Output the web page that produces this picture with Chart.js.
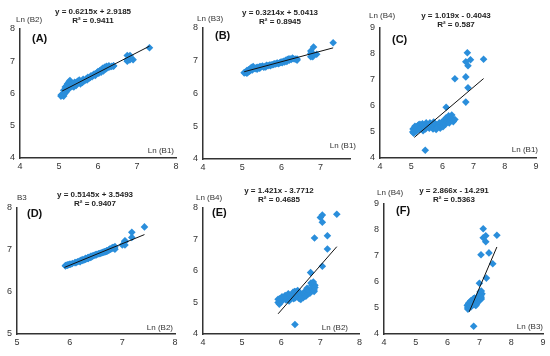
<!DOCTYPE html>
<html>
<head>
<meta charset="utf-8">
<script src="https://cdn.jsdelivr.net/npm/chart.js@4.4.1/dist/chart.umd.min.js"></script>
<style>
  body { margin: 0; background: #fff; }
  #wrap { position: relative; width: 550px; height: 356px; overflow: hidden;
          font-family: "Liberation Sans", Arial, sans-serif; }
  #wrap canvas { position: absolute; }
  .eq { position: absolute; width: 140px; text-align: center; font-weight: bold;
        font-size: 8px; line-height: 9px; color: #222; white-space: nowrap; }
  .ax { position: absolute; font-size: 8px; line-height: 8px; color: #333; white-space: nowrap; }
  .pl { position: absolute; font-weight: bold; font-size: 11px; line-height: 11px; color: #111; }
</style>
</head>
<body>
<div id="wrap"></div>
<script>
// ln values per sample (outliers first, then the main cluster)
const lnB1 = [
  6.80, 6.75, 6.90, 6.82, 7.32, 6.40, 6.75, 6.82, 6.75, 6.12, 5.45,
  5.05, 5.08, 5.10, 5.12, 5.15, 5.18, 5.20, 5.22, 5.25, 5.28,
  5.12, 5.16, 5.20, 5.24, 5.30, 5.33, 5.36, 5.40, 5.44, 5.48,
  5.52, 5.55, 5.58, 5.62, 5.66, 5.70, 5.74, 5.78, 5.82, 5.85,
  5.88, 5.90, 5.93, 5.96, 5.98, 6.00, 6.02, 6.04, 6.06, 6.08,
  6.10, 6.12, 6.14, 6.16, 6.18, 6.20, 6.22, 6.25, 6.28, 6.30,
  6.35, 6.40, 5.06, 5.14, 5.26, 5.38, 5.46, 5.60, 5.72, 5.80
];
const lnB2 = [
  7.05, 7.00, 7.05, 7.05, 7.42, 6.85, 7.18, 7.18, 7.05, 6.75, 6.35,
  5.92, 5.95, 5.98, 5.92, 6.00, 6.05, 6.25, 6.30, 6.35, 6.40,
  6.10, 6.20, 6.12, 6.18, 6.28, 6.22, 6.30, 6.35, 6.25, 6.38,
  6.42, 6.30, 6.36, 6.44, 6.40, 6.46, 6.50, 6.48, 6.55, 6.52,
  6.58, 6.60, 6.56, 6.62, 6.65, 6.68, 6.63, 6.70, 6.72, 6.66,
  6.74, 6.78, 6.70, 6.80, 6.82, 6.76, 6.84, 6.80, 6.86, 6.82,
  6.84, 6.86, 5.96, 6.02, 6.15, 6.20, 6.32, 6.34, 6.42, 6.50
];
const lnB3 = [
  7.12, 7.12, 7.20, 7.20, 7.55, 7.05, 7.30, 7.42, 7.22, 7.00, 6.82,
  6.63, 6.64, 6.65, 6.62, 6.66, 6.68, 6.75, 6.78, 6.80, 6.82,
  6.70, 6.72, 6.70, 6.73, 6.77, 6.76, 6.79, 6.80, 6.77, 6.82,
  6.84, 6.80, 6.82, 6.86, 6.85, 6.87, 6.88, 6.88, 6.91, 6.90,
  6.92, 6.93, 6.91, 6.94, 6.95, 6.96, 6.94, 6.97, 6.98, 6.96,
  7.00, 7.02, 6.98, 7.04, 7.05, 7.02, 7.06, 7.04, 7.08, 7.06,
  7.05, 7.02, 6.64, 6.66, 6.72, 6.74, 6.79, 6.81, 6.85, 6.89
];
const lnB4 = [
  8.05, 7.70, 7.78, 7.55, 7.80, 7.05, 7.12, 6.70, 6.15, 5.95, 4.30,
  5.00, 4.95, 5.05, 5.10, 5.02, 5.15, 5.20, 5.25, 5.18, 5.30,
  5.22, 5.12, 5.08, 5.28, 5.15, 5.22, 5.32, 5.25, 5.18, 5.35,
  5.28, 5.20, 5.15, 5.30, 5.22, 5.12, 5.25, 5.30, 5.18, 5.22,
  5.28, 5.35, 5.15, 5.25, 5.32, 5.40, 5.20, 5.28, 5.35, 5.45,
  5.30, 5.55, 5.38, 5.42, 5.50, 5.62, 5.35, 5.45, 5.55, 5.65,
  5.40, 5.48, 5.12, 5.18, 5.10, 5.05, 5.12, 5.35, 5.38, 5.10
];

// fitted trend lines as printed on each panel
const panelNames = ['(A)', '(B)', '(C)', '(D)', '(E)', '(F)'];
const slopes = [0.6215, 0.3214, 1.019, 0.5145, 1.421, 2.866];
const intercepts = [2.9185, 5.0413, -0.4043, 3.5493, -3.7712, -14.291];
const eqLabels = ['y = 0.6215x + 2.9185', 'y = 0.3214x + 5.0413', 'y = 1.019x - 0.4043',
                  'y = 0.5145x + 3.5493', 'y = 1.421x - 3.7712', 'y = 2.866x - 14.291'];
const r2Labels = ['R\u00b2 = 0.9411', 'R\u00b2 = 0.8945', 'R\u00b2 = 0.587',
                  'R\u00b2 = 0.9407', 'R\u00b2 = 0.4685', 'R\u00b2 = 0.5363'];
const trendStart = [5.08, 5.05, 5.10, 5.90, 5.92, 6.68];
const trendEnd = [7.32, 7.32, 7.32, 7.42, 7.42, 7.55];
const xTitles = ['Ln (B1)', 'Ln (B1)', 'Ln (B1)', 'Ln (B2)', 'Ln (B2)', 'Ln (B3)'];
const yTitles = ['Ln (B2)', 'Ln (B3)', 'Ln (B4)', 'B3', 'Ln (B4)', 'Ln (B4)'];

const xSeries = [lnB1, lnB1, lnB1, lnB2, lnB2, lnB3];
const ySeries = [lnB2, lnB3, lnB4, lnB3, lnB4, lnB4];

// layout: canvas box, plot area (page px), axis ranges, text spots
const panels = [
  { box: [0, 0, 185, 175],     area: [20, 29, 176, 158],  xr: [4, 8],    yr: [4, 8],
    eq: [93, 7],    yt: [16, 16],   xt: [174, 147], pl: [32, 33] },
  { box: [185, 0, 180, 175],   area: [203, 28, 350, 159], xr: [4, 7.75], yr: [4, 8],
    eq: [280, 7.5], yt: [197, 15],  xt: [356, 142], pl: [215, 30] },
  { box: [365, 0, 185, 175],   area: [380, 28, 536, 158], xr: [4, 9],    yr: [4, 9],
    eq: [456, 10.5], yt: [369, 12], xt: [538, 146], pl: [392, 34] },
  { box: [0, 175, 185, 181],   area: [17, 208, 175, 334], xr: [5, 8],    yr: [5, 8],
    eq: [95, 189.5], yt: [17, 194], xt: [173, 324], pl: [27, 208] },
  { box: [185, 175, 180, 181], area: [203, 208, 360, 334], xr: [4, 8],   yr: [4, 8],
    eq: [279, 185.5], yt: [196, 194], xt: [348, 324], pl: [212, 207] },
  { box: [365, 175, 185, 181], area: [384, 204, 543, 334], xr: [4, 9],   yr: [4, 9],
    eq: [454, 185.5], yt: [377, 189], xt: [543, 323], pl: [396, 205] }
];

const wrap = document.getElementById('wrap');
const tickFont = { family: '"Liberation Sans", Arial, sans-serif', size: 9 };

function addText(cls, html, css) {
  const d = document.createElement('div');
  d.className = cls;
  d.innerHTML = html;
  Object.assign(d.style, css);
  wrap.appendChild(d);
}

// whole-number ticks only, even when the axis ends between two of them
function wholeTicks(scale) {
  const out = [];
  for (let v = Math.ceil(scale.min); v <= Math.floor(scale.max); v++) out.push({ value: v });
  scale.ticks = out;
}

panels.forEach((p, i) => {
  const [bx, by, bw, bh] = p.box;
  const [left, top, right, bottom] = p.area;
  const cv = document.createElement('canvas');
  cv.width = bw; cv.height = bh;
  cv.style.left = bx + 'px'; cv.style.top = by + 'px';
  wrap.appendChild(cv);

  const xs = xSeries[i], ys = ySeries[i];
  const pts = [];
  for (let k = 0; k < xs.length; k++) {
    if (xs[k] >= p.xr[0] && xs[k] <= p.xr[1] && ys[k] >= p.yr[0] && ys[k] <= p.yr[1]) {
      pts.push({ x: xs[k], y: ys[k] });
    }
  }
  const trend = [trendStart[i], trendEnd[i]].map(x => ({ x: x, y: slopes[i] * x + intercepts[i] }));

  new Chart(cv, {
    type: 'scatter',
    data: {
      datasets: [
        { type: 'line', data: trend, borderColor: '#111', borderWidth: 1,
          pointRadius: 0, fill: false, order: 0 },
        { data: pts, pointStyle: 'rectRot', pointRadius: 3.8,
          backgroundColor: '#2a8edb', borderColor: '#2a8edb', borderWidth: 0, order: 1 }
      ]
    },
    options: {
      responsive: false,
      animation: false,
      events: [],
      layout: { padding: { left: 0, bottom: 0, top: top - by, right: bx + bw - right } },
      plugins: { legend: { display: false }, tooltip: { enabled: false } },
      scales: {
        x: {
          type: 'linear', min: p.xr[0], max: p.xr[1],
          ticks: { stepSize: 1, font: tickFont, color: '#333', padding: 3, maxRotation: 0, autoSkip: false },
          grid: { display: false, drawTicks: false },
          border: { display: true, color: '#333', width: 1.5 },
          afterBuildTicks: wholeTicks,
          afterFit: s => { s.height = by + bh - bottom; }
        },
        y: {
          type: 'linear', min: p.yr[0], max: p.yr[1],
          ticks: { stepSize: 1, font: tickFont, color: '#333', padding: 5, autoSkip: false },
          grid: { display: false, drawTicks: false },
          border: { display: true, color: '#333', width: 1.5 },
          afterBuildTicks: wholeTicks,
          afterFit: s => { s.width = left - bx; }
        }
      }
    }
  });

  addText('eq', eqLabels[i] + '<br>' + r2Labels[i], { left: (p.eq[0] - 70) + 'px', top: p.eq[1] + 'px' });
  addText('ax', yTitles[i], { left: p.yt[0] + 'px', top: p.yt[1] + 'px' });
  addText('ax', xTitles[i], { right: (550 - p.xt[0]) + 'px', top: p.xt[1] + 'px' });
  addText('pl', panelNames[i], { left: p.pl[0] + 'px', top: p.pl[1] + 'px' });
});
</script>
</body>
</html>
